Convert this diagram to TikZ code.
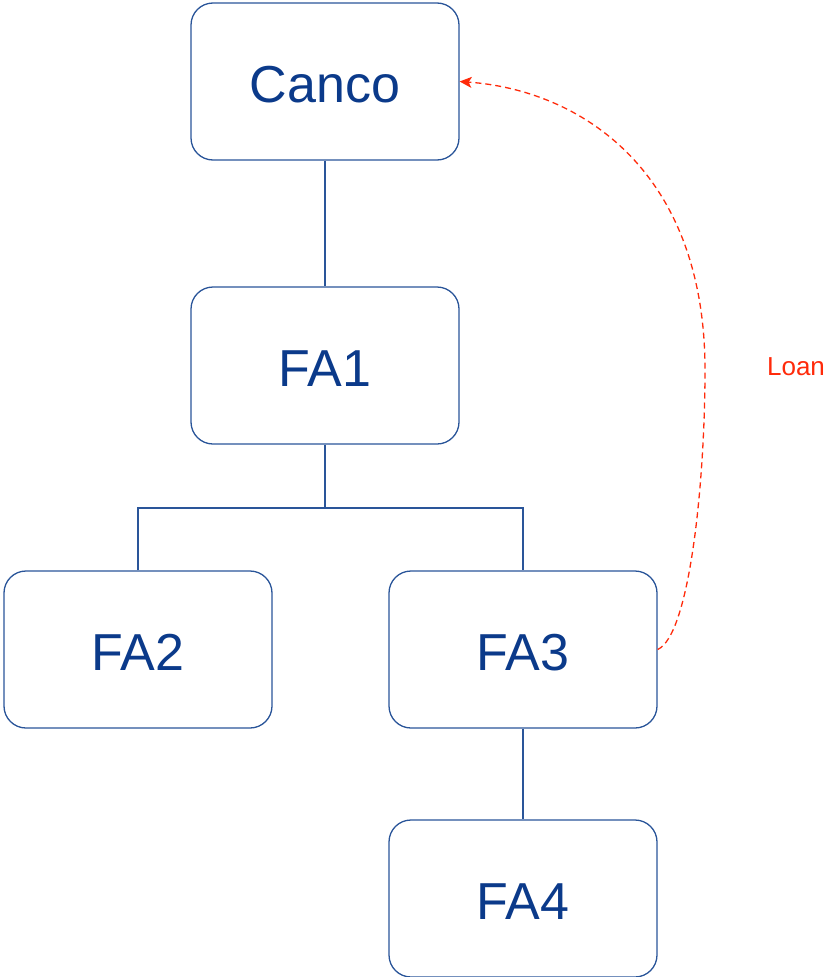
\documentclass[tikz,border=0pt]{standalone}
\usepackage{fontspec}
\setmainfont{Liberation Sans}
\usetikzlibrary{arrows.meta}
\definecolor{boxline}{HTML}{2A5599}
\definecolor{boxtext}{HTML}{0B3A8A}
\definecolor{loanred}{HTML}{FF2A0A}
\begin{document}
\begin{tikzpicture}[x=1pt,y=-1pt,
  entity/.style={draw=boxline, line width=1.3pt, rounded corners=22pt,
    minimum width=268pt, minimum height=157pt, inner sep=0pt},
  entityname/.style={text=boxtext, font=\fontsize{52}{60}\selectfont, yshift=-3pt},
  link/.style={draw=boxline, line width=1.3pt},
  loan/.style={draw=loanred, line width=1.3pt, dash pattern=on 6pt off 4pt,
    -{Stealth[length=12pt,width=11pt,inset=3pt]}}]
\useasboundingbox (0,0) rectangle (825,977);
% boxes
\node[entity] (canco) at (325,81.5) {};
\node[entity] (fa1) at (325,365.5) {};
\node[entity] (fa2) at (138,649.5) {};
\node[entity] (fa3) at (523,649.5) {};
\node[entity] (fa4) at (523,898.5) {};
% box names
\node[entityname] (cancot) at (canco) {Canco};
\node[entityname] (fa1t) at (fa1) {FA1};
\node[entityname] (fa2t) at (fa2) {FA2};
\node[entityname] (fa3t) at (fa3) {FA3};
\node[entityname] (fa4t) at (fa4) {FA4};
% ownership tree
\draw[link] (canco.south) -- (fa1.north);
\coordinate (split) at (325,508);
\draw[link] (fa1.south) -- (split);
\draw[link] (fa2.north) |- (split) -| (fa3.north);
\draw[link] (fa3.south) -- (fa4.north);
% loan back to the parent
\coordinate (bend) at (705,370);
\draw[loan] (fa3.east) .. controls (690,635) and (705,480) .. (bend)
  .. controls (705,170) and (580,90) .. (canco.east);
\node[text=loanred, font=\fontsize{26}{30}\selectfont] (loanlbl) at (796,367) {Loan};
\end{tikzpicture}
\end{document}
